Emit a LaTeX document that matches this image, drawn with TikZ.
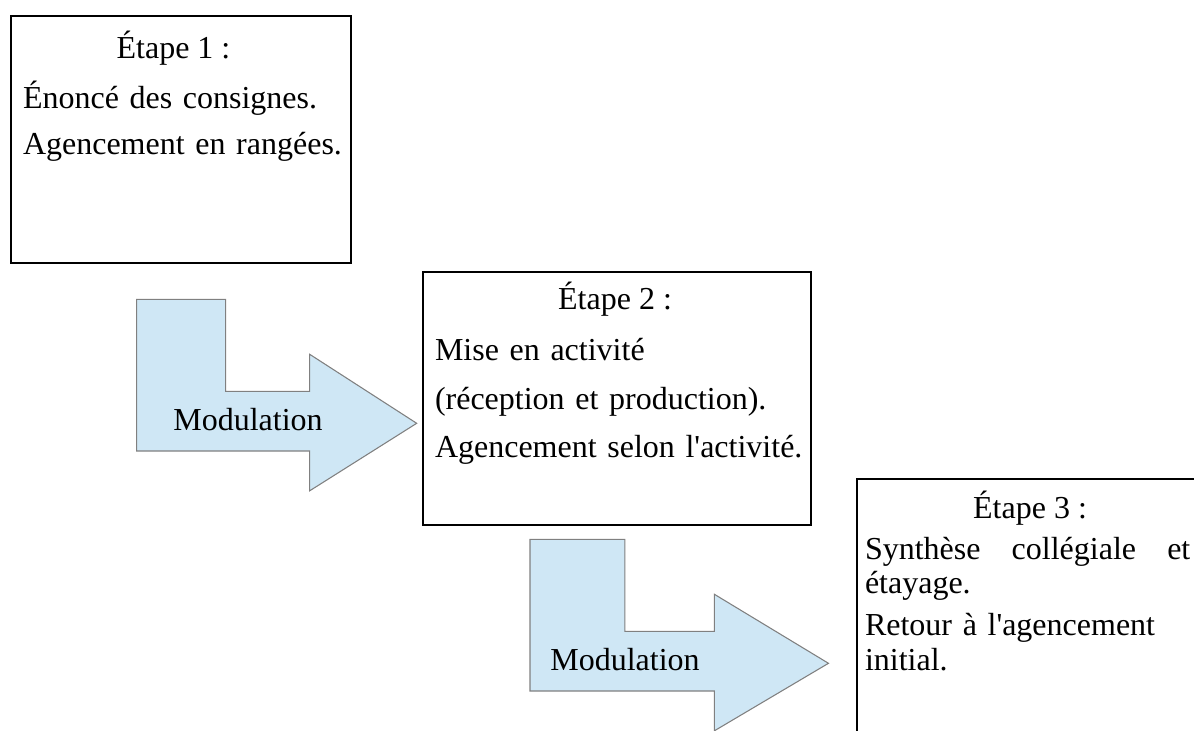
\documentclass[tikz,border=0pt]{standalone}
\usepackage{fontspec}
\setmainfont{Liberation Serif}[Ligatures=TeXOff]
\usetikzlibrary{positioning}
\definecolor{paleblue}{RGB}{207,231,245}
\definecolor{outline}{RGB}{128,128,128}
\tikzset{
x=0.375pt, y=-0.375pt, % one unit = one pixel of the page
every node/.style={inner sep=0pt, outer sep=0pt, font=\fontsize{12}{14}\selectfont}, % 12 pt text
frame/.style={draw=black, line width=0.6pt, anchor=north west}, % the box of a step
title/.style={anchor=base}, % the centred heading of a step
body/.style={anchor=base west, align=left}, % the text of a step
bentarrow/.style={fill=paleblue, draw=outline, line width=0.4pt}, % the L-shaped arrow
modulation/.pic={
  \draw[bentarrow] (0,0) -- (89,0) -- (89,92) -- (173,92) -- (173,55) -- (280,124)
    -- (173,191.5) -- (173,151.7) -- (0,151.7) -- cycle;
},
}

\begin{document}
\begin{tikzpicture}

            \useasboundingbox (0,0) rectangle (1194,731);
            \clip (0,0) rectangle (1194,731);

            % step 1
            \node[frame, minimum width=127.5pt, minimum height=92.6pt] (e1) at (11,16) {};
            \node[title] (t1) at (173.5,59) {Étape 1 :};
            \node[body, text width=122pt, font=\fontsize{12}{16.9}\selectfont] (c1) at (23,109)
                {Énoncé des consignes.\\ Agencement en rangées.};

            % step 2
            \node[frame, minimum width=145.5pt, minimum height=94.9pt] (e2) at (423,272) {};
            \node[title] (t2) at (615,309) {Étape 2 :};
            \node[body, text width=138pt, font=\fontsize{12}{18}\selectfont] (c2) at (435,361)
                {Mise en activité\\ (réception et production).\\ Agencement selon l'activité.};

            % step 3
            \node[frame, minimum width=128.6pt, minimum height=97.9pt] (e3) at (857,479) {};
            \node[title] (t3) at (1030,519) {Étape 3 :};
            \node[body, text width=122pt, font=\fontsize{12}{13.1}\selectfont] (c3) at (865,559)
                {Synthèse \hfill collégiale \hfill et\\ étayage.\\[2.6pt]
                 Retour à l'agencement\\ initial.};

            % the two arrows
            \pic at (136.7,299.3) {modulation};
            \node[anchor=base] (m1) at (248,430) {Modulation};
            \pic[xscale=1.066] at (530,539.3) {modulation};
            \node[anchor=base] (m2) at (625,670) {Modulation};

        \end{tikzpicture}
\end{document}
